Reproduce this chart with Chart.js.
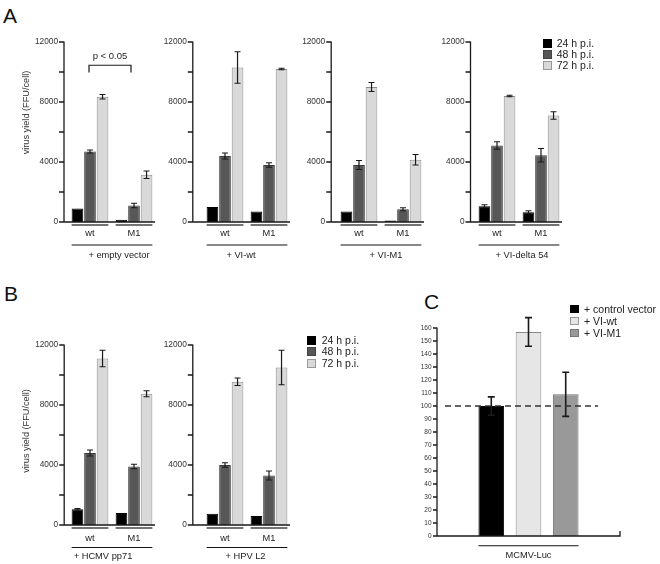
<!DOCTYPE html>
<html>
<head>
<meta charset="utf-8">
<script src="https://cdn.jsdelivr.net/npm/chart.js@4"></script>
<style>
body { margin: 0; background: #fff; width: 660px; height: 564px; position: relative; overflow: hidden; font-family: "Liberation Sans", Arial, sans-serif; }
canvas { position: absolute; }
.letter { position: absolute; font-size: 21px; line-height: 21px; color: #111; }
.legend { position: absolute; font-size: 10.5px; color: #222; }
.legend div { position: absolute; white-space: nowrap; line-height: 12px; }
.legend span { position: absolute; box-sizing: border-box; }
</style>
</head>
<body>
<div class="letter" style="left:3px;top:5px">A</div>
<div class="letter" style="left:4px;top:283px">B</div>
<div class="letter" style="left:424px;top:291px">C</div>

<script>
// ---- data ----
const groups = ['wt', 'M1'];
const times = ['24 h p.i.', '48 h p.i.', '72 h p.i.'];

// rows: 24 / 48 / 72 h p.i., columns: wt / M1
const emptyVectorMean = [[900, 150], [4700, 1100], [8350, 3150]];
const emptyVectorErr  = [[0, 0], [100, 150], [150, 250]];
const viWtMean = [[1000, 700], [4400, 3800], [10300, 10200]];
const viWtErr  = [[0, 0], [200, 150], [1050, 50]];
const viM1Mean = [[700, 100], [3800, 850], [9000, 4150]];
const viM1Err  = [[0, 0], [300, 100], [300, 350]];
const viDeltaMean = [[1050, 650], [5100, 4450], [8400, 7100]];
const viDeltaErr  = [[100, 100], [250, 450], [50, 250]];
const pp71Mean = [[1050, 800], [4800, 3900], [11100, 8750]];
const pp71Err  = [[50, 0], [200, 150], [550, 200]];
const hpvL2Mean = [[750, 600], [4000, 3300], [9550, 10500]];
const hpvL2Err  = [[0, 0], [150, 300], [250, 1150]];

const yieldTicksMax = 12000;
const yieldLabelStep = 4000;

const lucCategory = ['MCMV-Luc'];
const lucSeries = ['+ control vector', '+ VI-wt', '+ VI-M1'];
const lucMean = [100, 157, 109];
const lucErr = [7, 11, 17];

// ---- styles ----
const timeFill = ['#000000', '#575757', '#d9d9d9'];
const timeEdge = ['#000000', '#3a3a3a', '#8c8c8c'];
const lucFill = ['#000000', '#e6e6e6', '#999999'];
const lucEdge = ['#000000', '#8a8a8a', '#6e6e6e'];

Chart.defaults.font.family = '"Liberation Sans", Arial, sans-serif';
Chart.defaults.color = '#222';

// axes, error bars, under-lines and labels drawn around the bars
const decorations = {
  id: 'decorations',
  afterDraw(chart, args, o) {
    const { ctx, chartArea: area, scales: { x, y } } = chart;
    const axisX = area.left - o.gap;
    const y0 = y.getPixelForValue(0);
    ctx.save();
    ctx.strokeStyle = '#1a1a1a';
    ctx.fillStyle = '#222';
    ctx.lineWidth = 1.3;
    ctx.beginPath();
    ctx.moveTo(axisX, y.getPixelForValue(y.max) - 0.5);
    ctx.lineTo(axisX, y0);
    const xEnd = area.right - o.axisTrim;
    ctx.lineTo(xEnd, y0);
    if (o.endTick) ctx.lineTo(xEnd, y0 - o.endTick);
    y.ticks.forEach(t => {
      const py = y.getPixelForValue(t.value);
      ctx.moveTo(axisX - o.tickLen, py);
      ctx.lineTo(axisX, py);
    });
    ctx.stroke();

    // error bars
    ctx.lineWidth = o.errWidth;
    chart.data.datasets.forEach((ds, i) => {
      chart.getDatasetMeta(i).data.forEach((bar, j) => {
        const e = ds.errors[j];
        if (!e) return;
        const top = y.getPixelForValue(ds.data[j] + e);
        const bot = y.getPixelForValue(ds.data[j] - e);
        ctx.beginPath();
        ctx.moveTo(bar.x, top); ctx.lineTo(bar.x, bot);
        ctx.moveTo(bar.x - o.cap, top); ctx.lineTo(bar.x + o.cap, top);
        ctx.moveTo(bar.x - o.cap, bot); ctx.lineTo(bar.x + o.cap, bot);
        ctx.stroke();
      });
    });

    const first = chart.getDatasetMeta(0).data;
    const last = chart.getDatasetMeta(chart.data.datasets.length - 1).data;

    if (o.groupLine) {
      ctx.strokeStyle = '#444';
      ctx.lineWidth = 1.6;
      first.forEach((b, j) => {
        ctx.beginPath();
        ctx.moveTo(b.x - b.width / 2, y0 + 3);
        ctx.lineTo(last[j].x + last[j].width / 2, y0 + 3);
        ctx.stroke();
      });
    }

    const L = first[0].x - first[0].width / 2;
    const R = last[last.length - 1].x + last[last.length - 1].width / 2;
    ctx.strokeStyle = '#111';
    ctx.lineWidth = 1.1;
    ctx.beginPath();
    ctx.moveTo(L, y0 + o.lineDy);
    ctx.lineTo(R, y0 + o.lineDy);
    ctx.stroke();

    ctx.textAlign = 'center';
    ctx.textBaseline = 'middle';
    if (o.condition) {
      ctx.font = '9.3px "Liberation Sans", Arial, sans-serif';
      ctx.fillText(o.condition, (L + R) / 2 + o.labelDx, y0 + o.labelDy);
    }

    if (o.yTitle) {
      ctx.save();
      ctx.translate(axisX - 37.5, area.top + o.yTitleDy);
      ctx.rotate(-Math.PI / 2);
      ctx.font = '9.2px "Liberation Sans", Arial, sans-serif';
      ctx.fillStyle = '#333';
      ctx.fillText(o.yTitle, 0, 0);
      ctx.restore();
    }

    if (o.bracket) {
      const a = x.getPixelForValue(0) - 1, b = x.getPixelForValue(1) - 3;
      const ty = y.getPixelForValue(o.bracket.top), tip = y.getPixelForValue(o.bracket.tip);
      ctx.strokeStyle = '#1a1a1a';
      ctx.lineWidth = 1.2;
      ctx.beginPath();
      ctx.moveTo(a, tip); ctx.lineTo(a, ty); ctx.lineTo(b, ty); ctx.lineTo(b, tip);
      ctx.stroke();
      ctx.font = '9.5px "Liberation Sans", Arial, sans-serif';
      ctx.fillText(o.bracket.text, (a + b) / 2, ty - 9);
    }

    if (o.refLine) {
      const py = y.getPixelForValue(o.refLine.value);
      ctx.strokeStyle = '#333';
      ctx.lineWidth = 1.6;
      ctx.setLineDash([6, 4]);
      ctx.beginPath();
      ctx.moveTo(area.left + o.refLine.from, py);
      ctx.lineTo(area.right - o.refLine.to, py);
      ctx.stroke();
    }
    ctx.restore();
  }
};

function addCanvas(left, top, w, h) {
  const c = document.createElement('canvas');
  c.width = Math.round(w);
  c.height = Math.round(h);
  c.style.left = left + 'px';
  c.style.top = top + 'px';
  document.body.appendChild(c);
  return c.getContext('2d');
}

const YW = 55, PAD_TOP = 25, PAD_RIGHT = 10, XH = 42, CAT_W = 88;
const noGrid = { display: false, drawTicks: false };

function yieldPanel(g, means, errs, condition, extra) {
  const ctx = addCanvas(g.axisX + g.gap - YW, g.top - PAD_TOP,
    YW + CAT_W + PAD_RIGHT, PAD_TOP + (g.bottom - g.top) + XH);
  new Chart(ctx, {
    type: 'bar',
    data: {
      labels: groups,
      datasets: times.map((t, i) => ({
        label: t,
        data: means[i],
        errors: errs[i],
        backgroundColor: timeFill[i],
        borderColor: timeEdge[i],
        borderWidth: 1,
        categoryPercentage: 0.855,
        barPercentage: 0.93
      }))
    },
    options: {
      responsive: false,
      animation: false,
      layout: { padding: { top: PAD_TOP, right: PAD_RIGHT, left: 0, bottom: 0 } },
      plugins: {
        legend: { display: false },
        tooltip: { enabled: false },
        decorations: Object.assign({
          gap: g.gap, axisTrim: 1, tickLen: 5, errWidth: 1.2, cap: 3,
          groupLine: true, lineDy: g.lineDy, labelDy: g.labelDy,
          condition: condition, labelDx: 0
        }, extra)
      },
      scales: {
        x: {
          grid: noGrid,
          border: { display: false },
          ticks: { font: { size: 9.3 }, padding: g.tickPad },
          afterFit: s => { s.height = XH; }
        },
        y: {
          min: 0,
          max: yieldTicksMax,
          grid: noGrid,
          border: { display: false },
          ticks: {
            stepSize: 2000,
            font: { size: 8.3 },
            color: '#333',
            padding: g.gap + 6,
            callback: v => (v % yieldLabelStep === 0 ? v : '')
          },
          afterFit: s => { s.width = YW; }
        }
      }
    },
    plugins: [decorations]
  });
}

const rowA = { top: 42, bottom: 221.5, tickPad: 5.4, lineDy: 23, labelDy: 33 };
const rowB = { top: 344.5, bottom: 524.5, tickPad: 8.2, lineDy: 22.5, labelDy: 31.5 };
const yTitle = 'virus yield (FFU/cell)';

yieldPanel({ ...rowA, axisX: 63.5, gap: 4 }, emptyVectorMean, emptyVectorErr, '+ empty vector',
  { labelDx: 7, yTitle: yTitle, yTitleDy: 70.5, bracket: { top: 10450, tip: 9975, text: 'p < 0.05' } });
yieldPanel({ ...rowA, axisX: 192.7, gap: 10.2 }, viWtMean, viWtErr, '+ VI-wt', { labelDx: -6 });
yieldPanel({ ...rowA, axisX: 331, gap: 5.8 }, viM1Mean, viM1Err, '+ VI-M1', { labelDx: 5 });
yieldPanel({ ...rowA, axisX: 470.7, gap: 4.5 }, viDeltaMean, viDeltaErr, '+ VI-delta 54', { labelDx: 3 });
yieldPanel({ ...rowB, axisX: 64, gap: 3.8 }, pp71Mean, pp71Err, '+ HCMV pp71',
  { labelDx: -9, yTitle: yTitle, yTitleDy: 86 });
yieldPanel({ ...rowB, axisX: 192.7, gap: 10.2 }, hpvL2Mean, hpvL2Err, '+ HPV L2', { labelDx: -1.5 });

// panel C
(function () {
  const axisX = 437, top = 328.3, bottom = 536, width = 183, padTop = 20, xh = 30;
  const ctx = addCanvas(axisX - YW, top - padTop, YW + width + PAD_RIGHT, padTop + (bottom - top) + xh);
  new Chart(ctx, {
    type: 'bar',
    data: {
      labels: lucCategory,
      datasets: lucSeries.map((s, i) => ({
        label: s,
        data: [lucMean[i]],
        errors: [lucErr[i]],
        backgroundColor: lucFill[i],
        borderColor: lucEdge[i],
        borderWidth: 1,
        categoryPercentage: 0.61,
        barPercentage: 0.69
      }))
    },
    options: {
      responsive: false,
      animation: false,
      layout: { padding: { top: padTop, right: PAD_RIGHT, left: 0, bottom: 0 } },
      plugins: {
        legend: { display: false },
        tooltip: { enabled: false },
        decorations: {
          gap: 0, axisTrim: 0, endTick: 5, tickLen: 4, errWidth: 1.6, cap: 3.5,
          groupLine: false, lineDy: 9.7, condition: null,
          refLine: { value: 100, from: 8, to: 22 }
        }
      },
      scales: {
        x: {
          grid: noGrid,
          border: { display: false },
          ticks: { font: { size: 9.3 }, padding: 13.6 },
          afterFit: s => { s.height = xh; }
        },
        y: {
          min: 0,
          max: 160,
          grid: noGrid,
          border: { display: false },
          ticks: { stepSize: 10, font: { size: 6.5 }, color: '#333', padding: 5.5 },
          afterFit: s => { s.width = YW; }
        }
      }
    },
    plugins: [decorations]
  });
})();

// legends
function legend(left, top, names, fills, edges, box, rowH, textX) {
  const d = document.createElement('div');
  d.className = 'legend';
  d.style.left = left + 'px';
  d.style.top = top + 'px';
  names.forEach((n, i) => {
    const sw = document.createElement('span');
    sw.style.cssText = `left:0;top:${i * rowH - box / 2}px;width:${box}px;height:${box}px;` +
      `background:${fills[i]};border:1px solid ${edges[i]}`;
    const tx = document.createElement('div');
    tx.style.cssText = `left:${textX}px;top:${i * rowH - 6.5}px`;
    tx.textContent = n;
    d.appendChild(sw);
    d.appendChild(tx);
  });
  document.body.appendChild(d);
}
const legendEdge = ['#000', '#444', '#999'];
legend(542.7, 43, times, timeFill, legendEdge, 9, 11.3, 14);
legend(306.7, 340.3, times, timeFill, legendEdge, 9, 11.7, 15);
legend(570, 309, lucSeries, lucFill, ['#000', '#999', '#777'], 8.5, 12, 14);
</script>
</body>
</html>
